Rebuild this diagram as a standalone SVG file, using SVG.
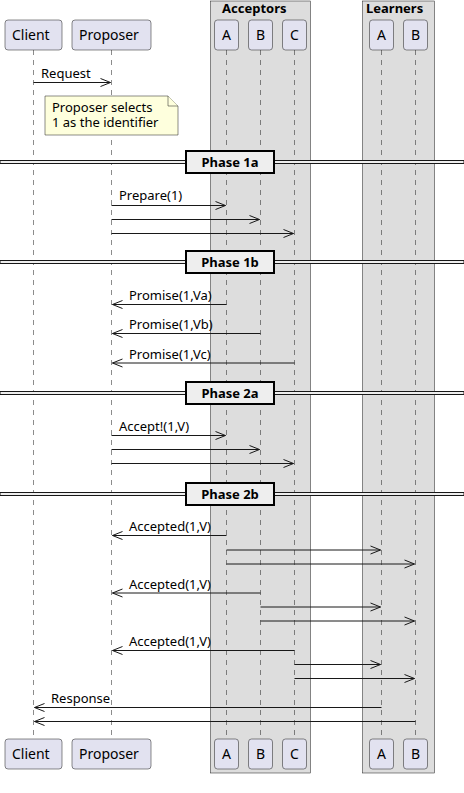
<svg xmlns="http://www.w3.org/2000/svg" width="464" height="793" viewBox="0 0 464 793">
  <style>
    text { font-family: "Noto Sans", "Open Sans", "DejaVu Sans", sans-serif; fill: #000; }
    .plabel { font-size: 14px; }
    .mlabel { font-size: 13px; }
    .bold { font-size: 13px; font-weight: bold; }
    .part { fill: #E2E2F0; stroke: #181818; stroke-width: 0.5; }
    .grp { fill: #DDDDDD; stroke: #181818; stroke-width: 0.5; }
    .life { stroke: #181818; stroke-width: 0.5; stroke-dasharray: 5,5; fill: none; }
    .msg { stroke: #181818; stroke-width: 1; fill: none; }
    .divline { fill: #EEEEEE; stroke: #181818; stroke-width: 1; }
    .divbox { fill: #EEEEEE; stroke: #000; stroke-width: 2; }
    .note { fill: #FEFFDD; stroke: #181818; stroke-width: 0.5; }
  </style>
  <defs>
    <marker id="open" viewBox="0 0 12 10" refX="11" refY="5" markerWidth="12" markerHeight="10" markerUnits="userSpaceOnUse" orient="auto">
      <polyline points="1,1 11,5 1,9" fill="none" stroke="#181818" stroke-width="1"/>
    </marker>
  </defs>

  <!-- participant groups -->
  <g id="box-acceptors">
    <rect class="grp" x="210.5" y="1" width="100" height="772"/>
    <text class="bold" x="222" y="13">Acceptors</text>
  </g>
  <g id="box-learners">
    <rect class="grp" x="362.5" y="1" width="72" height="772"/>
    <text class="bold" x="366" y="13">Learners</text>
  </g>

  <!-- lifelines -->
  <g id="lifelines">
    <line class="life" x1="33.5" y1="50" x2="33.5" y2="739"/>
    <line class="life" x1="111.5" y1="50" x2="111.5" y2="739"/>
    <line class="life" x1="226.5" y1="50" x2="226.5" y2="739"/>
    <line class="life" x1="260.5" y1="50" x2="260.5" y2="739"/>
    <line class="life" x1="294.5" y1="50" x2="294.5" y2="739"/>
    <line class="life" x1="381.5" y1="50" x2="381.5" y2="739"/>
    <line class="life" x1="415.5" y1="50" x2="415.5" y2="739"/>
  </g>

  <!-- participants -->
  <g id="client">
    <rect class="part" x="5" y="20" width="57" height="30" rx="3"/>
    <text class="plabel" x="12" y="40">Client</text>
    <rect class="part" x="5" y="739" width="57" height="30" rx="3"/>
    <text class="plabel" x="12" y="759">Client</text>
  </g>
  <g id="proposer">
    <rect class="part" x="72" y="20" width="79" height="30" rx="3"/>
    <text class="plabel" x="79" y="40">Proposer</text>
    <rect class="part" x="72" y="739" width="79" height="30" rx="3"/>
    <text class="plabel" x="79" y="759">Proposer</text>
  </g>
  <g id="acceptor-a">
    <rect class="part" x="214.5" y="20" width="24" height="30" rx="3"/>
    <text class="plabel" x="226.5" y="40" text-anchor="middle">A</text>
    <rect class="part" x="214.5" y="739" width="24" height="30" rx="3"/>
    <text class="plabel" x="226.5" y="759" text-anchor="middle">A</text>
  </g>
  <g id="acceptor-b">
    <rect class="part" x="248.5" y="20" width="24" height="30" rx="3"/>
    <text class="plabel" x="260.5" y="40" text-anchor="middle">B</text>
    <rect class="part" x="248.5" y="739" width="24" height="30" rx="3"/>
    <text class="plabel" x="260.5" y="759" text-anchor="middle">B</text>
  </g>
  <g id="acceptor-c">
    <rect class="part" x="282.5" y="20" width="24" height="30" rx="3"/>
    <text class="plabel" x="294.5" y="40" text-anchor="middle">C</text>
    <rect class="part" x="282.5" y="739" width="24" height="30" rx="3"/>
    <text class="plabel" x="294.5" y="759" text-anchor="middle">C</text>
  </g>
  <g id="learner-a">
    <rect class="part" x="369.5" y="20" width="24" height="30" rx="3"/>
    <text class="plabel" x="381.5" y="40" text-anchor="middle">A</text>
    <rect class="part" x="369.5" y="739" width="24" height="30" rx="3"/>
    <text class="plabel" x="381.5" y="759" text-anchor="middle">A</text>
  </g>
  <g id="learner-b">
    <rect class="part" x="403.5" y="20" width="24" height="30" rx="3"/>
    <text class="plabel" x="415.5" y="40" text-anchor="middle">B</text>
    <rect class="part" x="403.5" y="739" width="24" height="30" rx="3"/>
    <text class="plabel" x="415.5" y="759" text-anchor="middle">B</text>
  </g>

  <!-- note -->
  <g id="note-identifier">
    <path class="note" d="M45,96 L168,96 L178,106 L178,135 L45,135 Z"/>
    <path class="note" d="M168,96 L168,106 L178,106"/>
    <text class="mlabel" x="52" y="112">Proposer selects</text>
    <text class="mlabel" x="52" y="127">1 as the identifier</text>
  </g>

  <!-- phase dividers -->
  <g id="phase-1a">
    <rect class="divline" x="0" y="160.5" width="464" height="3"/>
    <rect class="divbox" x="186" y="151" width="88" height="22"/>
    <text class="bold" x="230" y="167" text-anchor="middle">Phase 1a</text>
  </g>
  <g id="phase-1b">
    <rect class="divline" x="0" y="260.5" width="464" height="3"/>
    <rect class="divbox" x="186" y="251" width="88" height="22"/>
    <text class="bold" x="230" y="267" text-anchor="middle">Phase 1b</text>
  </g>
  <g id="phase-2a">
    <rect class="divline" x="0" y="391.5" width="464" height="3"/>
    <rect class="divbox" x="186" y="382" width="88" height="22"/>
    <text class="bold" x="230" y="398" text-anchor="middle">Phase 2a</text>
  </g>
  <g id="phase-2b">
    <rect class="divline" x="0" y="492.5" width="464" height="3"/>
    <rect class="divbox" x="186" y="483" width="88" height="22"/>
    <text class="bold" x="230" y="499" text-anchor="middle">Phase 2b</text>
  </g>

  <!-- messages -->
  <g id="connectors">
    <line class="msg" x1="33.5" y1="82.5" x2="110.5" y2="82.5" marker-end="url(#open)"/>
    <text class="mlabel" x="41" y="77.5">Request</text>

    <line class="msg" x1="111.5" y1="205.5" x2="225.5" y2="205.5" marker-end="url(#open)"/>
    <text class="mlabel" x="119" y="200">Prepare(1)</text>
    <line class="msg" x1="111.5" y1="219.5" x2="259.5" y2="219.5" marker-end="url(#open)"/>
    <line class="msg" x1="111.5" y1="233.5" x2="293.5" y2="233.5" marker-end="url(#open)"/>

    <line class="msg" x1="226.5" y1="304.5" x2="112.5" y2="304.5" marker-end="url(#open)"/>
    <text class="mlabel" x="129" y="300">Promise(1,Va)</text>
    <line class="msg" x1="260.5" y1="333.5" x2="112.5" y2="333.5" marker-end="url(#open)"/>
    <text class="mlabel" x="129" y="329">Promise(1,Vb)</text>
    <line class="msg" x1="294.5" y1="363" x2="112.5" y2="363" marker-end="url(#open)"/>
    <text class="mlabel" x="129" y="358.5">Promise(1,Vc)</text>

    <line class="msg" x1="111.5" y1="435.5" x2="225.5" y2="435.5" marker-end="url(#open)"/>
    <text class="mlabel" x="119" y="431">Accept!(1,V)</text>
    <line class="msg" x1="111.5" y1="449.5" x2="259.5" y2="449.5" marker-end="url(#open)"/>
    <line class="msg" x1="111.5" y1="463.5" x2="293.5" y2="463.5" marker-end="url(#open)"/>

    <line class="msg" x1="226.5" y1="535.5" x2="112.5" y2="535.5" marker-end="url(#open)"/>
    <text class="mlabel" x="129" y="531">Accepted(1,V)</text>
    <line class="msg" x1="226.5" y1="550" x2="380.5" y2="550" marker-end="url(#open)"/>
    <line class="msg" x1="226.5" y1="564" x2="414.5" y2="564" marker-end="url(#open)"/>

    <line class="msg" x1="260.5" y1="593" x2="112.5" y2="593" marker-end="url(#open)"/>
    <text class="mlabel" x="129" y="588.5">Accepted(1,V)</text>
    <line class="msg" x1="260.5" y1="607" x2="380.5" y2="607" marker-end="url(#open)"/>
    <line class="msg" x1="260.5" y1="621" x2="414.5" y2="621" marker-end="url(#open)"/>

    <line class="msg" x1="294.5" y1="650.5" x2="112.5" y2="650.5" marker-end="url(#open)"/>
    <text class="mlabel" x="129" y="646">Accepted(1,V)</text>
    <line class="msg" x1="294.5" y1="664.5" x2="380.5" y2="664.5" marker-end="url(#open)"/>
    <line class="msg" x1="294.5" y1="678.5" x2="414.5" y2="678.5" marker-end="url(#open)"/>

    <line class="msg" x1="381.5" y1="707.5" x2="34.5" y2="707.5" marker-end="url(#open)"/>
    <text class="mlabel" x="51" y="703">Response</text>
    <line class="msg" x1="415.5" y1="721.5" x2="34.5" y2="721.5" marker-end="url(#open)"/>
  </g>
</svg>
